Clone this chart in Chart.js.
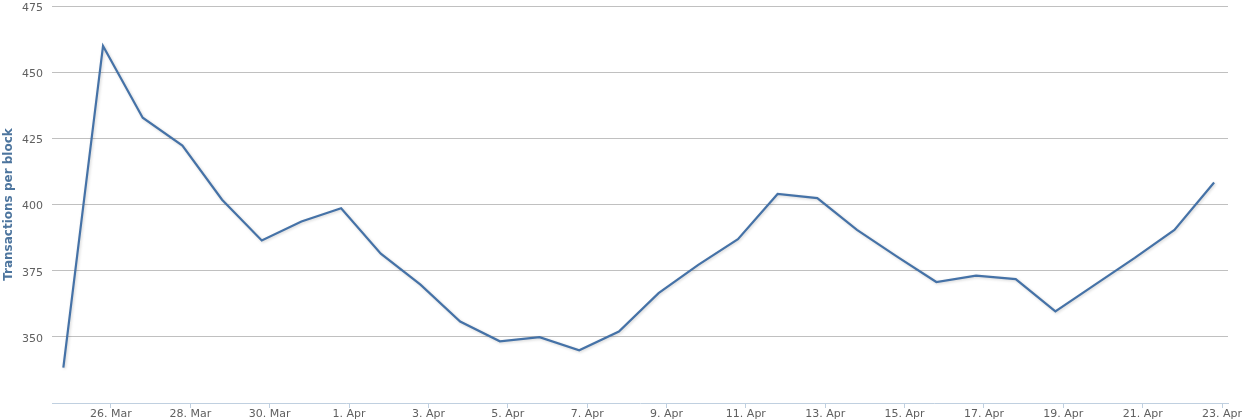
<!DOCTYPE html>
<html>
<head>
<meta charset="utf-8">
<script src="https://cdn.jsdelivr.net/npm/chart.js@4"></script>
<style>
  html, body { margin: 0; padding: 0; background: #fff; }
  #wrap { width: 1246px; height: 420px; }
</style>
</head>
<body>
<div id="wrap"><canvas id="chart" width="1246" height="420"></canvas></div>
<script>
// one reading per day, 25 Mar .. 23 Apr
const days = ['25 Mar','26 Mar','27 Mar','28 Mar','29 Mar','30 Mar','31 Mar',
  '1 Apr','2 Apr','3 Apr','4 Apr','5 Apr','6 Apr','7 Apr','8 Apr','9 Apr','10 Apr',
  '11 Apr','12 Apr','13 Apr','14 Apr','15 Apr','16 Apr','17 Apr','18 Apr','19 Apr',
  '20 Apr','21 Apr','22 Apr','23 Apr'];
const txPerBlock = [338.4, 459.9, 432.8, 422.3, 401.8, 386.4, 393.6, 398.6, 381.4, 369.7,
  355.8, 348.3, 349.9, 344.9, 352.0, 366.5, 377.2, 386.9, 404.0, 402.4,
  390.4, 380.4, 370.7, 373.1, 371.8, 359.6, 369.7, 379.8, 390.4, 408.3];
const tickLabels = ['26. Mar','28. Mar','30. Mar','1. Apr','3. Apr','5. Apr','7. Apr',
  '9. Apr','11. Apr','13. Apr','15. Apr','17. Apr','19. Apr','21. Apr','23. Apr'];

// readings are stamped a few hours before midnight
const sampleOffset = -0.2;

const points = txPerBlock.map((v, i) => ({ x: i + sampleOffset, y: v }));

// soft shadow under the line, like the original
const lineShadow = {
  id: 'lineShadow',
  beforeDatasetDraw(chart) {
    const c = chart.ctx;
    c.save();
    c.shadowColor = 'rgba(0,0,0,0.18)';
    c.shadowBlur = 3;
    c.shadowOffsetX = 1;
    c.shadowOffsetY = 1;
  },
  afterDatasetDraw(chart) {
    chart.ctx.restore();
  }
};

const ctx = document.getElementById('chart').getContext('2d');
new Chart(ctx, {
  type: 'line',
  data: {
    datasets: [{
      label: 'Transactions per block',
      data: points,
      borderColor: '#4572A7',
      borderWidth: 2.2,
      pointRadius: 0,
      tension: 0,
      fill: false
    }]
  },
  options: {
    responsive: false,
    animation: false,
    layout: { padding: { top: 6, right: 18, bottom: 0, left: 0 } },
    plugins: {
      legend: { display: false },
      tooltip: { enabled: false }
    },
    scales: {
      x: {
        type: 'linear',
        min: -0.486,
        max: 29.15,
        afterBuildTicks: (scale) => {
          scale.ticks = tickLabels.map((l, k) => ({ value: 1 + 2 * k }));
        },
        afterFit: (scale) => {
          scale.height = 17;
          scale.paddingLeft = 0;
          scale.paddingRight = 0;
        },
        ticks: {
          autoSkip: false,
          maxRotation: 0,
          padding: 0,
          color: '#606060',
          font: { family: 'DejaVu Sans', size: 11 },
          callback: (v) => tickLabels[Math.round((v - 1) / 2)]
        },
        grid: {
          drawOnChartArea: false,
          tickLength: 5,
          color: '#C0D0E0'
        },
        border: { display: true, color: '#C0D0E0', width: 1 }
      },
      y: {
        min: 325,
        max: 475,
        afterFit: (scale) => {
          scale.width = 52;
          scale.paddingTop = 0;
          scale.paddingBottom = 0;
        },
        ticks: {
          stepSize: 25,
          padding: 9,
          labelOffset: 2,
          color: '#606060',
          font: { family: 'DejaVu Sans', size: 11 },
          callback: (v) => (v === 325 ? '' : v)
        },
        grid: {
          drawTicks: false,
          color: (c) => (c.tick && c.tick.value === 325 ? 'rgba(0,0,0,0)' : '#C0C0C0')
        },
        border: { display: false },
        title: {
          display: true,
          text: 'Transactions per block',
          color: '#4D759E',
          padding: { top: 2, bottom: 0 },
          font: { family: 'DejaVu Sans', size: 12, weight: 'bold' }
        }
      }
    }
  },
  plugins: [lineShadow]
});
</script>
</body>
</html>
